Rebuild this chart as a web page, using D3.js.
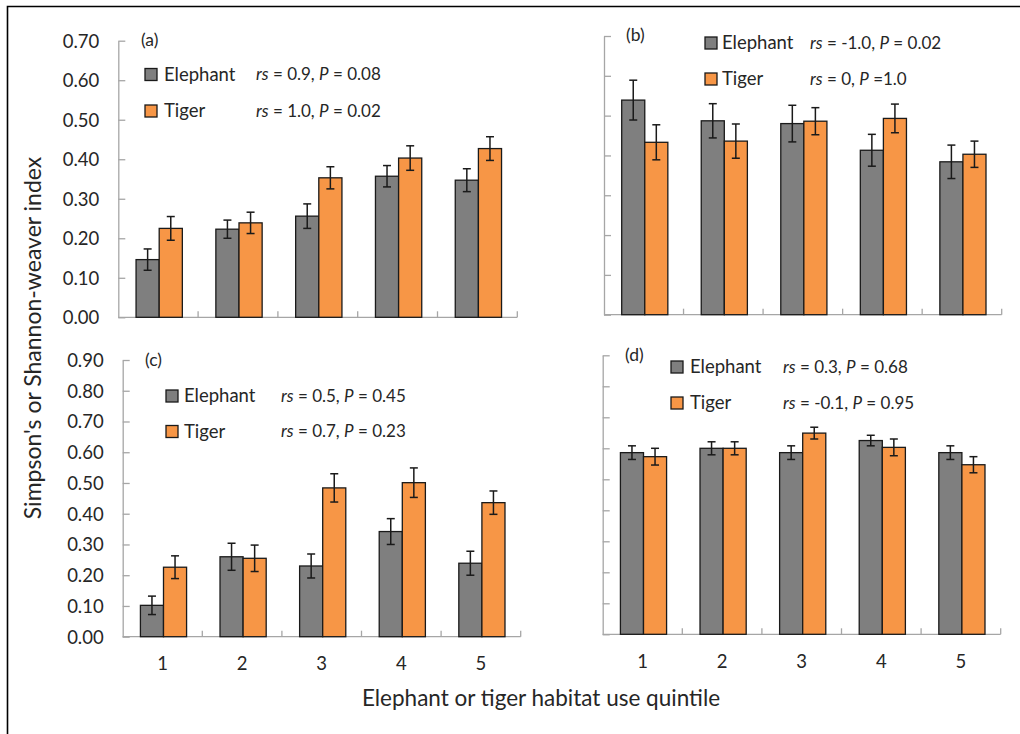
<!DOCTYPE html>
<html>
<head>
<meta charset="utf-8">
<script src="https://cdn.jsdelivr.net/npm/d3@7"></script>
<style>
  html, body { margin: 0; padding: 0; background: #fff; }
  svg text { font-family: Lato, "Open Sans", sans-serif; fill: #262626; }
</style>
</head>
<body>
<svg id="chart" width="1020" height="734"></svg>
<script>
// Quintile categories shared by every panel
const quintiles = ["1", "2", "3", "4", "5"];

// (a) diversity index by habitat use quintile
const elephantA = [0.146, 0.223, 0.256, 0.357, 0.347];
const elephantErrA = [0.027, 0.023, 0.031, 0.027, 0.029];
const tigerA = [0.225, 0.239, 0.353, 0.403, 0.427];
const tigerErrA = [0.030, 0.027, 0.028, 0.031, 0.030];

// (b)
const elephantB = [0.539, 0.487, 0.480, 0.413, 0.384];
const elephantErrB = [0.050, 0.043, 0.046, 0.040, 0.042];
const tigerB = [0.433, 0.436, 0.486, 0.493, 0.403];
const tigerErrB = [0.044, 0.043, 0.034, 0.036, 0.033];

// (c)
const elephantC = [0.102, 0.260, 0.230, 0.342, 0.239];
const elephantErrC = [0.030, 0.044, 0.039, 0.042, 0.039];
const tigerC = [0.226, 0.255, 0.484, 0.501, 0.436];
const tigerErrC = [0.037, 0.043, 0.046, 0.048, 0.038];

// (d)
const elephantD = [0.586, 0.600, 0.586, 0.625, 0.586];
const elephantErrD = [0.022, 0.021, 0.022, 0.017, 0.022];
const tigerD = [0.573, 0.600, 0.649, 0.603, 0.547];
const tigerErrD = [0.027, 0.021, 0.019, 0.027, 0.026];

// Y tick labels for the two rows of panels
const ticksTop = [0, 0.1, 0.2, 0.3, 0.4, 0.5, 0.6, 0.7];
const ticksBottom = [0, 0.1, 0.2, 0.3, 0.4, 0.5, 0.6, 0.7, 0.8, 0.9];

// Spearman statistics shown in each legend
const statsA = [["0.9", "0.08"], ["1.0", "0.02"]];
const statsB = [["-1.0", "0.02"], ["0", "1.0"]];
const statsC = [["0.5", "0.45"], ["0.7", "0.23"]];
const statsD = [["0.3", "0.68"], ["-0.1", "0.95"]];

const seriesNames = ["Elephant", "Tiger"];
const colors = { Elephant: "#7f7f7f", Tiger: "#f79646" };

const panels = [
  { tag: "(a)", elephant: elephantA, eErr: elephantErrA, tiger: tigerA, tErr: tigerErrA, stats: statsA,
    ticks: ticksTop, showY: true, showX: false,
    box: { left: 118.3, right: 517.3, top: 40.7, bottom: 317.3 },
    tagPos: [141, 40], legend: { sx: 145, tx: 164, statX: 256, y0: 74.5, dy: 36.5 } },
  { tag: "(b)", elephant: elephantB, eErr: elephantErrB, tiger: tigerB, tErr: tigerErrB, stats: statsB,
    ticks: ticksTop, showY: false, showX: false,
    box: { left: 604, right: 1001.7, top: 36, bottom: 314.7 },
    tagPos: [626, 35], legend: { sx: 705, tx: 722, statX: 810, y0: 43, dy: 36 } },
  { tag: "(c)", elephant: elephantC, eErr: elephantErrC, tiger: tigerC, tErr: tigerErrC, stats: statsC,
    ticks: ticksBottom, showY: true, showX: true,
    box: { left: 122.7, right: 520.7, top: 360, bottom: 636.7 },
    tagPos: [145, 360], legend: { sx: 166, tx: 184, statX: 281, y0: 396, dy: 35.5 } },
  { tag: "(d)", elephant: elephantD, eErr: elephantErrD, tiger: tigerD, tErr: tigerErrD, stats: statsD,
    ticks: ticksBottom, showY: false, showX: true,
    box: { left: 602.7, right: 1000.7, top: 355.3, bottom: 634.3 },
    tagPos: [625, 355], legend: { sx: 671, tx: 690, statX: 783, y0: 367, dy: 36 } }
];

const svg = d3.select("#chart");

// outer frame (top and left edges visible)
svg.append("path")
  .attr("d", "M7.5,734 V6.5 H1020")
  .attr("fill", "none").attr("stroke", "#000").attr("stroke-width", 1.6);

const axisColor = "#a6a6a6";

panels.forEach((p, pi) => {
  const b = p.box;
  const maxV = p.ticks[p.ticks.length - 1];
  const y = d3.scaleLinear().domain([0, maxV]).range([b.bottom, b.top]);
  const x = d3.scaleBand().domain(quintiles).range([b.left, b.right]);
  const g = svg.append("g");

  // y axis line + inward ticks
  const yAxis = d3.axisRight(y).tickValues(p.ticks).tickSize(7).tickSizeOuter(0)
    .tickFormat(d3.format(".2f"));
  const ya = g.append("g").attr("transform", `translate(${b.left},0)`).call(yAxis);
  ya.select(".domain").attr("stroke", axisColor).attr("stroke-width", 1.3);
  ya.selectAll(".tick line").attr("stroke", axisColor).attr("stroke-width", 1.3);
  if (p.showY) {
    ya.selectAll(".tick text")
      .attr("x", -19).attr("text-anchor", "end").attr("dy", "0.35em")
      .style("font-size", "18.5px").attr("fill", "#262626");
  } else {
    ya.selectAll(".tick text").remove();
  }

  // x axis line with inward ticks at category boundaries
  const xa = g.append("g");
  xa.append("line")
    .attr("x1", b.left).attr("x2", b.right).attr("y1", b.bottom).attr("y2", b.bottom)
    .attr("stroke", axisColor).attr("stroke-width", 1.3);
  const bounds = quintiles.slice(1).map(q => x(q)).concat([x(quintiles[4]) + x.bandwidth()]);
  xa.selectAll("line.bt").data(bounds).join("line").attr("class", "bt")
    .attr("x1", d => d).attr("x2", d => d)
    .attr("y1", b.bottom - 6).attr("y2", b.bottom)
    .attr("stroke", axisColor).attr("stroke-width", 1.3);
  if (p.showX) {
    xa.selectAll("text.xl").data(quintiles).join("text").attr("class", "xl")
      .attr("x", d => x(d) + x.bandwidth() / 2)
      .attr("y", b.bottom + 27)
      .attr("dy", "0.35em")
      .attr("text-anchor", "middle")
      .style("font-size", "18.5px")
      .text(d => d);
  }

  // bars
  const bw = x.bandwidth() * 0.29;
  const rows = [];
  quintiles.forEach((q, i) => {
    rows.push({ q, s: "Elephant", v: p.elephant[i], e: p.eErr[i], off: -bw });
    rows.push({ q, s: "Tiger", v: p.tiger[i], e: p.tErr[i], off: 0 });
  });
  g.selectAll("rect.bar").data(rows).join("rect").attr("class", "bar")
    .attr("x", d => x(d.q) + x.bandwidth() / 2 + d.off + 1)
    .attr("width", bw)
    .attr("y", d => y(d.v))
    .attr("height", d => y(0) - y(d.v))
    .attr("fill", d => colors[d.s])
    .attr("stroke", "#1a1a1a").attr("stroke-width", 1.3);

  // error bars
  const eg = g.selectAll("g.err").data(rows).join("g").attr("class", "err")
    .attr("transform", d => `translate(${x(d.q) + x.bandwidth() / 2 + d.off + 1 + bw / 2},0)`);
  eg.append("line")
    .attr("y1", d => y(d.v + d.e)).attr("y2", d => y(d.v - d.e))
    .attr("stroke", "#1a1a1a").attr("stroke-width", 1.5);
  eg.append("line")
    .attr("x1", -4).attr("x2", 4)
    .attr("y1", d => y(d.v + d.e)).attr("y2", d => y(d.v + d.e))
    .attr("stroke", "#1a1a1a").attr("stroke-width", 1.5);
  eg.append("line")
    .attr("x1", -4).attr("x2", 4)
    .attr("y1", d => y(d.v - d.e)).attr("y2", d => y(d.v - d.e))
    .attr("stroke", "#1a1a1a").attr("stroke-width", 1.5);

  // panel tag
  g.append("text")
    .attr("x", p.tagPos[0]).attr("y", p.tagPos[1]).attr("dy", "0.35em")
    .style("font-size", "17.5px").text(p.tag);

  // legend with statistics
  const L = p.legend;
  seriesNames.forEach((s, si) => {
    const cy = L.y0 + si * L.dy;
    g.append("rect")
      .attr("x", L.sx).attr("y", cy - 6).attr("width", 12).attr("height", 12)
      .attr("fill", colors[s]).attr("stroke", "#1a1a1a").attr("stroke-width", 1.3);
    g.append("text")
      .attr("x", L.tx).attr("y", cy).attr("dy", "0.35em")
      .style("font-size", "18.5px").text(s);
    const st = p.stats[si];
    const t = g.append("text")
      .attr("x", L.statX).attr("y", cy).attr("dy", "0.35em")
      .style("font-size", "17px");
    t.append("tspan").style("font-style", "italic").text("rs");
    t.append("tspan").text(" = " + st[0] + ", ");
    t.append("tspan").style("font-style", "italic").text("P");
    const pSep = (pi === 1 && si === 1) ? " =" : " = ";
    t.append("tspan").text(pSep + st[1]);
  });
});

// shared axis titles
svg.append("text")
  .attr("transform", "translate(33,338) rotate(-90)")
  .attr("text-anchor", "middle").attr("dy", "0.35em")
  .style("font-size", "23px")
  .text("Simpson's or Shannon-weaver index");

svg.append("text")
  .attr("x", 541).attr("y", 698).attr("dy", "0.35em")
  .attr("text-anchor", "middle")
  .style("font-size", "22.5px")
  .text("Elephant or tiger habitat use quintile");
</script>
</body>
</html>
